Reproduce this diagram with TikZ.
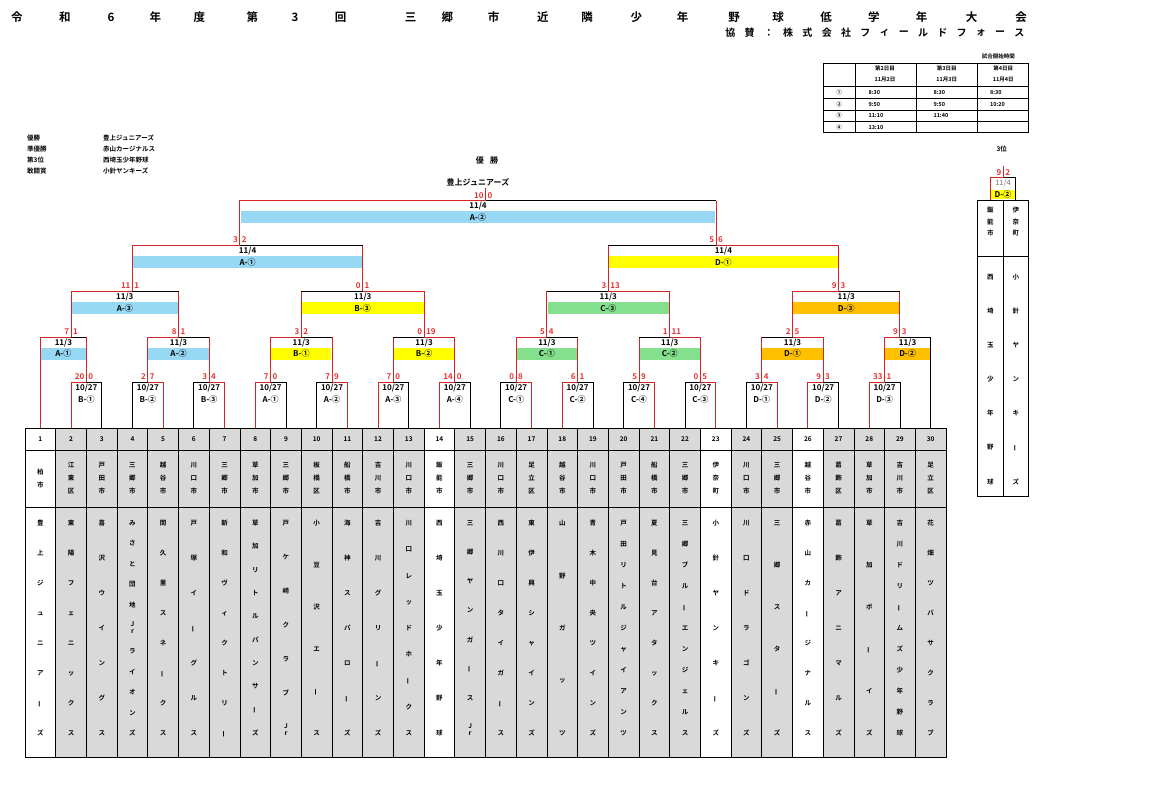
\documentclass[tikz,border=0pt]{standalone}
\usepackage{fontspec}
\setmainfont{Noto Sans CJK JP}[BoldFont={* Bold}]
\usepackage{graphicx}
\usepackage{xcolor}
\usepackage{tikz}
\usetikzlibrary{calc}

\definecolor{lred}{RGB}{212,36,36}
\definecolor{sred}{RGB}{226,52,52}
\definecolor{aband}{RGB}{151,216,244}
\definecolor{bband}{RGB}{255,255,0}
\definecolor{cband}{RGB}{132,224,140}
\definecolor{dband}{RGB}{255,192,0}
\definecolor{cgray}{RGB}{217,217,217}

% stacked letters for the team columns
\newcommand{\jr}{\shortstack{J\\r}}
\newcommand{\choon}{\smash{\rotatebox[origin=c]{90}{ー}}}
\newcommand{\vname}[2]{\vbox to #1{\offinterlineskip
  \foreach \c [count=\i] in #2 {\ifnum\i>1 \vfill\fi
    \hbox to 12pt{\hss\vrule height 5.7pt depth 0.8pt width 0pt\c\hss}}}}
\newcommand{\vcity}[2]{\vbox{\baselineskip=#1\lineskiplimit=-20pt\lineskip=0pt
  \foreach \c in #2 {\hbox to 10pt{\hss\c\hss}}}}

\begin{document}
\begin{tikzpicture}[x=1pt,y=-1pt,
  win/.style={draw=lred,line width=1pt},
  lose/.style={draw=black,line width=0.8pt},
  grid/.style={draw=black,line width=0.8pt},
  sc/.style={text=sred,font=\bfseries\fontsize{8}{9}\selectfont,inner sep=0.3pt},
  scl/.style={sc,anchor=east,xshift=-1.5pt,yshift=5.5pt},
  scr/.style={sc,anchor=west,xshift=1.5pt,yshift=5.5pt},
  dt/.style={font=\bfseries\fontsize{8}{9}\selectfont,inner sep=0pt},
  band/.style={font=\bfseries\fontsize{8}{9}\selectfont,inner sep=0pt,minimum height=12pt},
  txt/.style={font=\bfseries\fontsize{6.5}{7.5}\selectfont,inner sep=0pt},
  small/.style={font=\bfseries\fontsize{5.5}{6.5}\selectfont,inner sep=0pt},
  ttl/.style={font=\bfseries\fontsize{11.5}{12}\selectfont,inner sep=0pt}]

\fill[white] (0,0) rectangle (1152,787);
\useasboundingbox (0,0) rectangle (1152,787);

% title
\foreach \ch/\x [count=\i] in {令/17,和/64.8,6/111.1,年/155.3,度/199.4,第/252.4,3/295,回/340.6,
  三/410.5,郷/447.3,市/493.6,近/542.9,隣/587,少/636.3,年/682.6,野/734.1,球/778.2,
  低/826,学/873.9,年/921.7,大/971.7,会/1021}
  \node[ttl] (ttl\i) at (\x,17) {\ch};
\foreach \ch [count=\i] in {協,賛,：,株,式,会,社,フ,ィ,ー,ル,ド,フ,ォ,ー,ス}
  \node[font=\bfseries\fontsize{10}{11}\selectfont,inner sep=0pt] (spn\i) at ({730.4+(\i-1)*19.27},33) {\ch};

% start times
\node[small] (sched) at (998.3,56) {試合開始時間};
\draw[grid] (823.3,63.3) rectangle (1028.3,132.7);
\foreach \x in {855,916.7,977.7} \draw[grid] (\x,63.3) -- (\x,132.7);
\foreach \y in {86.7,98.3,110,121.7} \draw[grid] (823.3,\y) -- (1028.3,\y);
\foreach \x/\d/\m [count=\i] in {885/第2日目/11月2日,946.7/第3日目/11月3日,1003.3/第4日目/11月4日}{
  \node[small] (day\i) at (\x,68.3) {\d};
  \node[small] (date\i) at (\x,79.3) {\m};
}
\foreach \n/\y/\a/\b/\c [count=\i] in {①/92.5/8:30/8:30/8:30,②/104.2/9:50/9:50/10:20,
  ③/115.8/11:10/11:40/{},④/127.2/13:10/{}/{}}{
  \node[small] (slot\i) at (839,\y) {\n};
  \node[small,anchor=west] (ta\i) at (868.3,\y) {\a};
  \node[small,anchor=west] (tb\i) at (933.3,\y) {\b};
  \node[small,anchor=west] (tc\i) at (990,\y) {\c};
}

% results
\foreach \k/\v [count=\i] in {優勝/豊上ジュニアーズ,準優勝/赤山カージナルス,第3位/西埼玉少年野球,敢闘賞/小針ヤンキーズ}{
  \node[txt,anchor=west] (prize\i) at (27,{126.7+11*\i}) {\k};
  \node[txt,anchor=west] (team\i) at (103,{126.7+11*\i}) {\v};
}
\node[dt] (winhead) at (487,160.7) {優\hspace{0.8em}勝};
\node[dt] (winner) at (478,182.3) {豊上ジュニアーズ};
\node[txt] (thirdhead) at (1001.7,149.3) {3位};

% team table
\foreach \k/\fc/\city/\name in {
  1/white/{柏,市}/{豊,上,ジ,ュ,ニ,ア,\choon,ズ},
  2/cgray/{江,東,区}/{東,陽,フ,ェ,ニ,ッ,ク,ス},
  3/cgray/{戸,田,市}/{喜,沢,ウ,イ,ン,グ,ス},
  4/cgray/{三,郷,市}/{み,さ,と,団,地,\jr,ラ,イ,オ,ン,ズ},
  5/cgray/{越,谷,市}/{間,久,里,ス,ネ,\choon,ク,ス},
  6/cgray/{川,口,市}/{戸,塚,イ,\choon,グ,ル,ス},
  7/cgray/{三,郷,市}/{新,和,ヴ,ィ,ク,ト,リ,\choon},
  8/cgray/{草,加,市}/{草,加,リ,ト,ル,パ,ン,サ,\choon,ズ},
  9/cgray/{三,郷,市}/{戸,ケ,崎,ク,ラ,ブ,\jr},
  10/cgray/{板,橋,区}/{小,豆,沢,エ,\choon,ス},
  11/cgray/{船,橋,市}/{海,神,ス,パ,ロ,\choon,ズ},
  12/cgray/{吉,川,市}/{吉,川,グ,リ,\choon,ン,ズ},
  13/cgray/{川,口,市}/{川,口,レ,ッ,ド,ホ,\choon,ク,ス},
  14/white/{飯,能,市}/{西,埼,玉,少,年,野,球},
  15/cgray/{三,郷,市}/{三,郷,ヤ,ン,ガ,\choon,ス,\jr},
  16/cgray/{川,口,市}/{西,川,口,タ,イ,ガ,\choon,ス},
  17/cgray/{足,立,区}/{東,伊,興,シ,ャ,イ,ン,ズ},
  18/cgray/{越,谷,市}/{山,野,ガ,ッ,ツ},
  19/cgray/{川,口,市}/{青,木,中,央,ツ,イ,ン,ズ},
  20/cgray/{戸,田,市}/{戸,田,リ,ト,ル,ジ,ャ,イ,ア,ン,ツ},
  21/cgray/{船,橋,市}/{夏,見,台,ア,タ,ッ,ク,ス},
  22/cgray/{三,郷,市}/{三,郷,ブ,ル,\choon,エ,ン,ジ,ェ,ル,ス},
  23/white/{伊,奈,町}/{小,針,ヤ,ン,キ,\choon,ズ},
  24/cgray/{川,口,市}/{川,口,ド,ラ,ゴ,ン,ズ},
  25/cgray/{三,郷,市}/{三,郷,ス,タ,\choon,ズ},
  26/white/{越,谷,市}/{赤,山,カ,\choon,ジ,ナ,ル,ス},
  27/cgray/{葛,飾,区}/{葛,飾,ア,ニ,マ,ル,ズ},
  28/cgray/{草,加,市}/{草,加,ボ,\choon,イ,ズ},
  29/cgray/{吉,川,市}/{吉,川,ド,リ,\choon,ム,ズ,少,年,野,球},
  30/cgray/{足,立,区}/{花,畑,ツ,バ,サ,ク,ラ,ブ}}{
  \pgfmathsetmacro{\xl}{25+(\k-1)*30.7}
  \pgfmathsetmacro{\xc}{\xl+15.35}
  \filldraw[fill=\fc,grid] (\xl,428) rectangle ++(30.7,22);
  \filldraw[fill=\fc,grid] (\xl,450) rectangle ++(30.7,57.5);
  \filldraw[fill=\fc,grid] (\xl,507.5) rectangle ++(30.7,249.5);
  \node[txt] (no\k) at (\xc,439) {\k};
  \node[txt] (city\k) at (\xc,478.5) {\vcity{13pt}{\city}};
  \node[txt,anchor=north] (name\k) at (\xc,519.7) {\vname{215.5pt}{\name}};
  \coordinate (t\k) at (\xc,428);
}

% third place table
\draw[grid] (977.3,200) rectangle (1028.3,496);
\draw[grid] (1003.3,200) -- (1003.3,496);
\draw[grid] (977.3,256.7) -- (1028.3,256.7);
\node[txt] (s1c) at (990.3,222) {\vcity{11.5pt}{{飯,能,市}}};
\node[txt] (s2c) at (1015.8,222) {\vcity{11.5pt}{{伊,奈,町}}};
\node[txt,anchor=north] (s1n) at (990.3,273.4) {\vname{210.5pt}{{西,埼,玉,少,年,野,球}}};
\node[txt,anchor=north] (s2n) at (1015.8,273.4) {\vname{210.5pt}{{小,針,ヤ,ン,キ,\choon,ズ}}};
\coordinate (s1) at (990.3,200);
\coordinate (s2) at (1015.8,200);

% round 1, 10/27
\foreach \a/\m/\sl/\sr/\ws/\ls/\lab in {2/b1/20/0/win/lose/B-①,4/b2/2/7/lose/win/B-②,
  6/b3/3/4/lose/win/B-③,8/a1/7/0/win/lose/A-①,10/a2/7/9/lose/win/A-②,
  12/a3/7/0/win/lose/A-③,14/a4/14/0/win/lose/A-④,16/c1/0/8/lose/win/C-①,
  18/c2/6/1/win/lose/C-②,20/c4/5/9/lose/win/C-④,22/c3/0/5/lose/win/C-③,
  24/d1/3/4/lose/win/D-①,26/d2/9/3/win/lose/D-②,28/d3/33/1/win/lose/D-③}{
  \pgfmathtruncatemacro{\b}{\a+1}
  \coordinate (r1\m) at ($(t\a)!0.5!(t\b)+(0,-46)$);
  \draw[\ws] (t\a) |- (r1\m);
  \draw[\ls] (t\b) |- (r1\m);
  \node[scl] (r1\m-l) at (r1\m) {\sl};
  \node[scr] (r1\m-r) at (r1\m) {\sr};
  \node[dt] (r1\m-d) at ($(r1\m)+(0,6)$) {10/27};
  \node[dt] (r1\m-n) at ($(r1\m)+(0,17.5)$) {\lab};
}

% round 2, 11/3
\coordinate (r2a1) at (71.05,337);
\draw[win] (t1) |- (r2a1);
\draw[win] (r1b1) -- (r1b1 |- r2a1) edge[lose] (r2a1);
\node[scl] (r2a1-l) at (r2a1) {7}; \node[scr] (r2a1-r) at (r2a1) {1};
\node[dt] (r2a1-d) at (63.4,342.5) {11/3};
\node[band,fill=aband,minimum width=44.9pt] (r2a1-n) at (63.4,353.5) {A-①};

\coordinate (r2a2) at (178.5,337);
\draw[win] (r1b2) |- (r2a2);
\draw[win] (r1b3) -- (r1b3 |- r2a2) edge[lose] (r2a2);
\node[scl] (r2a2-l) at (r2a2) {8}; \node[scr] (r2a2-r) at (r2a2) {1};
\node[dt] (r2a2-d) at (178.5,342.5) {11/3};
\node[band,fill=aband,minimum width=60.2pt] (r2a2-n) at (178.5,353.5) {A-②};

\coordinate (r2b1) at (301.3,337);
\draw[win] (r1a1) |- (r2b1);
\draw[win] (r1a2) -- (r1a2 |- r2b1) edge[lose] (r2b1);
\node[scl] (r2b1-l) at (r2b1) {3}; \node[scr] (r2b1-r) at (r2b1) {2};
\node[dt] (r2b1-d) at (301.3,342.5) {11/3};
\node[band,fill=bband,minimum width=60.2pt] (r2b1-n) at (301.3,353.5) {B-①};

\coordinate (r2b2) at (424.1,337);
\draw[win] (r1a4) |- (r2b2);
\draw[win] (r1a3) -- (r1a3 |- r2b2) edge[lose] (r2b2);
\node[scl] (r2b2-l) at (r2b2) {0}; \node[scr] (r2b2-r) at (r2b2) {19};
\node[dt] (r2b2-d) at (424.1,342.5) {11/3};
\node[band,fill=bband,minimum width=60.2pt] (r2b2-n) at (424.1,353.5) {B-②};

\coordinate (r2c1) at (546.9,337);
\draw[win] (r1c1) |- (r2c1);
\draw[win] (r1c2) -- (r1c2 |- r2c1) edge[lose] (r2c1);
\node[scl] (r2c1-l) at (r2c1) {5}; \node[scr] (r2c1-r) at (r2c1) {4};
\node[dt] (r2c1-d) at (546.9,342.5) {11/3};
\node[band,fill=cband,minimum width=60.2pt] (r2c1-n) at (546.9,353.5) {C-①};

\coordinate (r2c2) at (669.7,337);
\draw[win] (r1c3) |- (r2c2);
\draw[win] (r1c4) -- (r1c4 |- r2c2) edge[lose] (r2c2);
\node[scl] (r2c2-l) at (r2c2) {1}; \node[scr] (r2c2-r) at (r2c2) {11};
\node[dt] (r2c2-d) at (669.7,342.5) {11/3};
\node[band,fill=cband,minimum width=60.2pt] (r2c2-n) at (669.7,353.5) {C-②};

\coordinate (r2d1) at (792.5,337);
\draw[win] (r1d2) |- (r2d1);
\draw[win] (r1d1) -- (r1d1 |- r2d1) edge[lose] (r2d1);
\node[scl] (r2d1-l) at (r2d1) {2}; \node[scr] (r2d1-r) at (r2d1) {5};
\node[dt] (r2d1-d) at (792.5,342.5) {11/3};
\node[band,fill=dband,minimum width=60.2pt] (r2d1-n) at (792.5,353.5) {D-①};

\coordinate (r2d2) at (899.95,337);
\draw[win] (r1d3) |- (r2d2);
\draw[lose] (t30) |- (r2d2);
\node[scl] (r2d2-l) at (r2d2) {9}; \node[scr] (r2d2-r) at (r2d2) {3};
\node[dt] (r2d2-d) at (907.6,342.5) {11/3};
\node[band,fill=dband,minimum width=44.9pt] (r2d2-n) at (907.6,353.5) {D-②};

% round 3, 11/3
\coordinate (r3a3) at (132.45,291.3);
\draw[win] (r2a1) |- (r3a3);
\draw[win] (r2a2) -- (r2a2 |- r3a3) edge[lose] (r3a3);
\node[scl] (r3a3-l) at (r3a3) {11}; \node[scr] (r3a3-r) at (r3a3) {1};
\node[dt] (r3a3-d) at (124.8,296.8) {11/3};
\node[band,fill=aband,minimum width=106.2pt] (r3a3-n) at (124.8,308) {A-③};

\coordinate (r3b3) at (362.7,291.3);
\draw[win] (r2b2) |- (r3b3);
\draw[win] (r2b1) -- (r2b1 |- r3b3) edge[lose] (r3b3);
\node[scl] (r3b3-l) at (r3b3) {0}; \node[scr] (r3b3-r) at (r3b3) {1};
\node[dt] (r3b3-d) at (362.7,296.8) {11/3};
\node[band,fill=bband,minimum width=121.6pt] (r3b3-n) at (362.7,308) {B-③};

\coordinate (r3c3) at (608.3,291.3);
\draw[win] (r2c2) |- (r3c3);
\draw[win] (r2c1) -- (r2c1 |- r3c3) edge[lose] (r3c3);
\node[scl] (r3c3-l) at (r3c3) {3}; \node[scr] (r3c3-r) at (r3c3) {13};
\node[dt] (r3c3-d) at (608.3,296.8) {11/3};
\node[band,fill=cband,minimum width=121.6pt] (r3c3-n) at (608.3,308) {C-③};

\coordinate (r3d3) at (838.55,291.3);
\draw[win] (r2d1) |- (r3d3);
\draw[win] (r2d2) -- (r2d2 |- r3d3) edge[lose] (r3d3);
\node[scl] (r3d3-l) at (r3d3) {9}; \node[scr] (r3d3-r) at (r3d3) {3};
\node[dt] (r3d3-d) at (846.2,296.8) {11/3};
\node[band,fill=dband,minimum width=106.2pt] (r3d3-n) at (846.2,308) {D-③};

% round 4, 11/4
\coordinate (r4a1) at (239.9,245);
\draw[win] (r3a3) |- (r4a1);
\draw[win] (r3b3) -- (r3b3 |- r4a1) edge[lose] (r4a1);
\node[scl] (r4a1-l) at (r4a1) {3}; \node[scr] (r4a1-r) at (r4a1) {2};
\node[dt] (r4a1-d) at (247.6,250.5) {11/4};
\node[band,fill=aband,minimum width=229pt] (r4a1-n) at (247.6,262) {A-①};

\coordinate (r4d1) at (716,245);
\draw[win] (r3d3) |- (r4d1);
\draw[win] (r3c3) -- (r3c3 |- r4d1) edge[lose] (r4d1);
\node[scl] (r4d1-l) at (r4d1) {5}; \node[scr] (r4d1-r) at (r4d1) {6};
\node[dt] (r4d1-d) at (723.4,250.5) {11/4};
\node[band,fill=bband,minimum width=229pt] (r4d1-n) at (723.4,262) {D-①};

% final
\coordinate (fin) at (485.5,200.7);
\coordinate (champ) at (485.5,188);
\draw[win] (r4a1) |- (fin);
\draw[win] (r4d1) -- (r4d1 |- fin) edge[lose] (fin);
\draw[win] (fin) -- (champ);
\node[scl] (fin-l) at (fin) {10}; \node[scr] (fin-r) at (fin) {0};
\node[dt] (fin-d) at (478,205.8) {11/4};
\node[band,fill=aband,minimum width=474.9pt] (fin-n) at (478,217) {A-②};

% third place
\coordinate (third) at (1003.3,177.7);
\coordinate (thirdtop) at (1003.3,166);
\draw[win] (s1) |- (third);
\draw[lose] (s2) |- (third);
\draw[win] (third) -- (thirdtop);
\node[scl] (third-l) at (third) {9}; \node[scr] (third-r) at (third) {2};
\node[dt,text=black!55,font=\fontsize{7.5}{8}\selectfont] (third-d) at (1003,183) {11/4};
\node[band,fill=bband,minimum width=24.3pt,minimum height=9.3pt] (third-n) at (1003,194.6) {D-②};
\end{tikzpicture}
\end{document}
